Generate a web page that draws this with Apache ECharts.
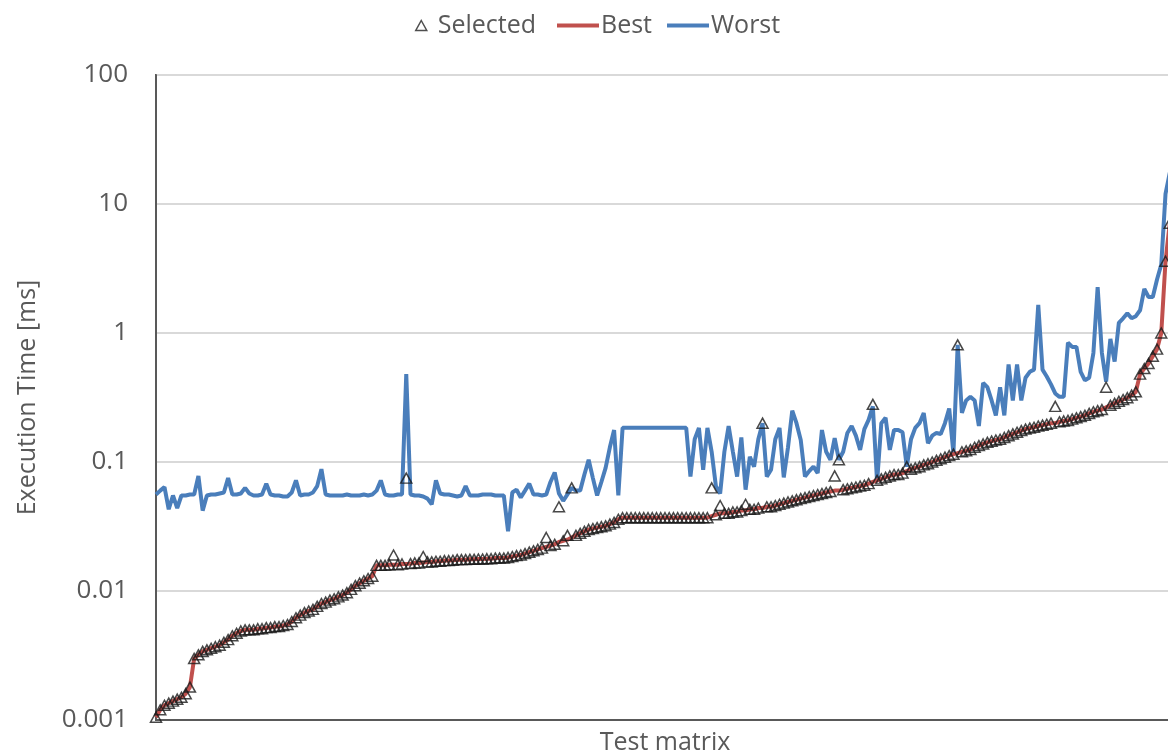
<!DOCTYPE html>
<html>
<head>
<meta charset="utf-8">
<script src="https://cdn.jsdelivr.net/npm/echarts@6/dist/echarts.min.js"></script>
<style>
html,body{margin:0;padding:0;background:#fff;}
#chart{width:1168px;height:755px;}
</style>
</head>
<body>
<div id="chart"></div>
<script>
// ---- data ----
const seriesNames = ['Selected', 'Best', 'Worst'];
const yTickLabels = ['0.001', '0.01', '0.1', '1', '10', '100'];
const xAxisTitle = 'Test matrix';
const yAxisTitle = 'Execution Time [ms]';

const best = [
  0.00105, 0.0012, 0.0013, 0.00135, 0.0014, 0.00145, 0.0015, 0.0016, 0.0018, 0.003,
  0.0032, 0.0034, 0.0035, 0.0036, 0.0037, 0.0038, 0.004, 0.0042, 0.0045, 0.0047,
  0.0049, 0.005, 0.005, 0.005, 0.0051, 0.0051, 0.0052, 0.0052, 0.0053, 0.0053,
  0.0054, 0.0055, 0.0058, 0.0062, 0.0065, 0.0068, 0.007, 0.0072, 0.0076, 0.008,
  0.0082, 0.0085, 0.0087, 0.009, 0.0093, 0.0097, 0.0103, 0.011, 0.0115, 0.012,
  0.0125, 0.013, 0.0158, 0.0158, 0.0158, 0.016, 0.016, 0.016, 0.0162, 0.0162,
  0.0163, 0.0165, 0.0165, 0.0166, 0.0168, 0.0168, 0.017, 0.017, 0.0172, 0.0172,
  0.0173, 0.0175, 0.0175, 0.0175, 0.0176, 0.0176, 0.0177, 0.0177, 0.0178, 0.0178,
  0.018, 0.018, 0.018, 0.0182, 0.0185, 0.0188, 0.019, 0.0195, 0.02, 0.0205,
  0.021, 0.0215, 0.022, 0.0225, 0.023, 0.024, 0.0245, 0.025, 0.026, 0.027,
  0.028, 0.029, 0.03, 0.0305, 0.031, 0.0315, 0.032, 0.033, 0.034, 0.036,
  0.037, 0.037, 0.037, 0.037, 0.037, 0.037, 0.037, 0.037, 0.037, 0.037,
  0.037, 0.037, 0.037, 0.037, 0.037, 0.037, 0.037, 0.037, 0.037, 0.037,
  0.037, 0.038, 0.039, 0.04, 0.04, 0.04, 0.041, 0.041, 0.042, 0.042,
  0.043, 0.043, 0.044, 0.044, 0.045, 0.045, 0.046, 0.047, 0.048, 0.049,
  0.05, 0.051, 0.052, 0.053, 0.054, 0.055, 0.056, 0.057, 0.058, 0.059,
  0.06, 0.06, 0.061, 0.062, 0.063, 0.064, 0.065, 0.066, 0.068, 0.07,
  0.072, 0.074, 0.076, 0.078, 0.08, 0.08, 0.082, 0.085, 0.088, 0.09,
  0.092, 0.095, 0.097, 0.1, 0.103, 0.106, 0.109, 0.112, 0.115, 0.117,
  0.12, 0.122, 0.125, 0.13, 0.134, 0.138, 0.142, 0.145, 0.148, 0.15,
  0.155, 0.16, 0.165, 0.17, 0.175, 0.18, 0.183, 0.186, 0.19, 0.193,
  0.196, 0.2, 0.2, 0.205, 0.208, 0.21, 0.215, 0.22, 0.225, 0.23,
  0.238, 0.245, 0.25, 0.255, 0.265, 0.275, 0.285, 0.295, 0.305, 0.315,
  0.33, 0.35, 0.48, 0.53, 0.58, 0.66, 0.75, 1.0, 3.6, 7.1, 9
];

const worst = [
  0.056, 0.06, 0.064, 0.043, 0.055, 0.044, 0.055, 0.055, 0.056, 0.056,
  0.078, 0.042, 0.055, 0.056, 0.056, 0.057, 0.058, 0.075, 0.056, 0.056,
  0.057, 0.063, 0.057, 0.055, 0.055, 0.056, 0.068, 0.056, 0.055, 0.055,
  0.054, 0.054, 0.058, 0.072, 0.055, 0.056, 0.056, 0.058, 0.065, 0.088,
  0.056, 0.055, 0.055, 0.055, 0.055, 0.056, 0.055, 0.055, 0.055, 0.056,
  0.055, 0.056, 0.06, 0.072, 0.056, 0.055, 0.055, 0.056, 0.056, 0.48,
  0.056, 0.055, 0.055, 0.054, 0.052, 0.047, 0.072, 0.057, 0.056, 0.056,
  0.055, 0.054, 0.055, 0.065, 0.055, 0.055, 0.055, 0.056, 0.056, 0.056,
  0.055, 0.055, 0.055, 0.029, 0.058, 0.061, 0.053, 0.06, 0.068, 0.056,
  0.056, 0.055, 0.056, 0.07, 0.083, 0.057, 0.05, 0.056, 0.063, 0.06,
  0.06, 0.08, 0.104, 0.075, 0.055, 0.07, 0.09, 0.13, 0.177, 0.055,
  0.184, 0.184, 0.184, 0.184, 0.184, 0.184, 0.184, 0.184, 0.184, 0.184,
  0.184, 0.184, 0.184, 0.184, 0.184, 0.184, 0.077, 0.15, 0.184, 0.087,
  0.184, 0.12, 0.065, 0.057, 0.12, 0.19, 0.12, 0.077, 0.155, 0.061,
  0.11, 0.092, 0.15, 0.2, 0.077, 0.087, 0.15, 0.184, 0.076, 0.13,
  0.25, 0.2, 0.148, 0.077, 0.085, 0.092, 0.082, 0.177, 0.12, 0.104,
  0.153, 0.104, 0.12, 0.168, 0.19, 0.16, 0.124, 0.18, 0.212, 0.27,
  0.07, 0.2, 0.22, 0.124, 0.177, 0.177, 0.17, 0.092, 0.15, 0.184,
  0.2, 0.24, 0.14, 0.16, 0.168, 0.165, 0.2, 0.26, 0.117, 0.81,
  0.24, 0.3, 0.32, 0.3, 0.19, 0.41, 0.38, 0.3, 0.23, 0.38,
  0.23, 0.57, 0.3, 0.57, 0.3, 0.45, 0.5, 0.52, 1.65, 0.52,
  0.46, 0.4, 0.34, 0.32, 0.32, 0.84, 0.78, 0.78, 0.5, 0.43,
  0.45, 0.7, 2.27, 0.7, 0.42, 0.9, 0.6, 1.2, 1.3, 1.42,
  1.3, 1.35, 1.5, 2.2, 1.9, 1.9, 2.6, 3.4, 12, 17.4, 20
];

// Selected equals Best except at these test matrices: [index, value]
const selectedDiffIndex = [56, 59, 63, 92, 95, 97, 98, 131, 133, 139, 143, 160, 161, 169, 177, 189, 212, 224, 238, 239, 240];
const selectedDiffValue = [0.019, 0.075, 0.0185, 0.026, 0.045, 0.027, 0.063, 0.063, 0.046, 0.047, 0.2, 0.078, 0.104, 0.28, 0.092, 0.81, 0.27, 0.38, 3.6, 7.1, null];

// ---- build ----
const categories = best.map((_, i) => String(i + 1));
const selected = best.slice();
selectedDiffIndex.forEach((idx, k) => { selected[idx] = selectedDiffValue[k]; });

const textColor = '#595959';
const fontFamily = '"Open Sans", "Liberation Sans", sans-serif';
const redColor = '#C0504D';
const blueColor = '#4A7EBB';

const chart = echarts.init(document.getElementById('chart'));
chart.setOption({
  animation: false,
  backgroundColor: '#ffffff',
  textStyle: { fontFamily: fontFamily, color: textColor },
  legend: [
    {
      data: [{ name: seriesNames[0], icon: 'triangle' }],
      left: 410, top: 8,
      itemWidth: 11, itemHeight: 10,
      itemStyle: { color: 'rgba(0,0,0,0)', borderColor: '#222', borderWidth: 1.5 },
      textStyle: { fontSize: 25, color: textColor, fontFamily: fontFamily, padding: [0, 0, 0, 6] }
    },
    {
      data: [
        { name: seriesNames[1], icon: 'rect', itemStyle: { color: redColor } },
        { name: seriesNames[2], icon: 'rect', itemStyle: { color: blueColor } }
      ],
      left: 552, top: 8,
      itemWidth: 42, itemHeight: 4, itemGap: 15,
      textStyle: { fontSize: 25, color: textColor, fontFamily: fontFamily, padding: [0, 0, 0, -3] }
    }
  ],
  grid: {
    left: 156, top: 75, right: -6, bottom: 35,
    outerBoundsMode: 'none',
    containLabel: false,
    show: true, borderColor: '#595959', borderWidth: 2, backgroundColor: 'transparent'
  },
  xAxis: {
    type: 'category',
    data: categories,
    boundaryGap: false,
    name: xAxisTitle,
    nameLocation: 'middle',
    nameGap: 10,
    nameTextStyle: { fontSize: 25, color: textColor, fontFamily: fontFamily },
    axisLine: { show: true, lineStyle: { color: '#595959', width: 2 } },
    axisTick: { show: false },
    axisLabel: { show: false },
    splitLine: { show: false }
  },
  yAxis: {
    type: 'log',
    logBase: 10,
    min: 0.001,
    max: 100,
    name: yAxisTitle,
    nameLocation: 'middle',
    nameGap: 116,
    nameTextStyle: { fontSize: 25, color: textColor, fontFamily: fontFamily },
    axisLine: { show: true, lineStyle: { color: '#595959', width: 2 } },
    axisTick: { show: false },
    axisLabel: {
      fontSize: 26, color: textColor, margin: 28, fontFamily: fontFamily,
      formatter: function (v) {
        const k = Math.round(Math.log10(v)) + 3;
        return yTickLabels[k] !== undefined ? yTickLabels[k] : '';
      }
    },
    splitLine: { show: true, lineStyle: { color: '#D9D9D9', width: 2 } }
  },
  series: [
    {
      name: seriesNames[2], type: 'line', data: worst,
      symbol: 'none', z: 2,
      lineStyle: { color: blueColor, width: 4 },
      itemStyle: { color: blueColor }
    },
    {
      name: seriesNames[1], type: 'line', data: best,
      symbol: 'none', z: 3,
      lineStyle: { color: redColor, width: 4 },
      itemStyle: { color: redColor }
    },
    {
      name: seriesNames[0], type: 'scatter', data: selected,
      symbol: 'triangle', symbolSize: [11, 10], z: 4,
      itemStyle: { color: 'rgba(0,0,0,0)', borderColor: '#1a1a1a', borderWidth: 1.5 }
    }
  ]
});
</script>
</body>
</html>
